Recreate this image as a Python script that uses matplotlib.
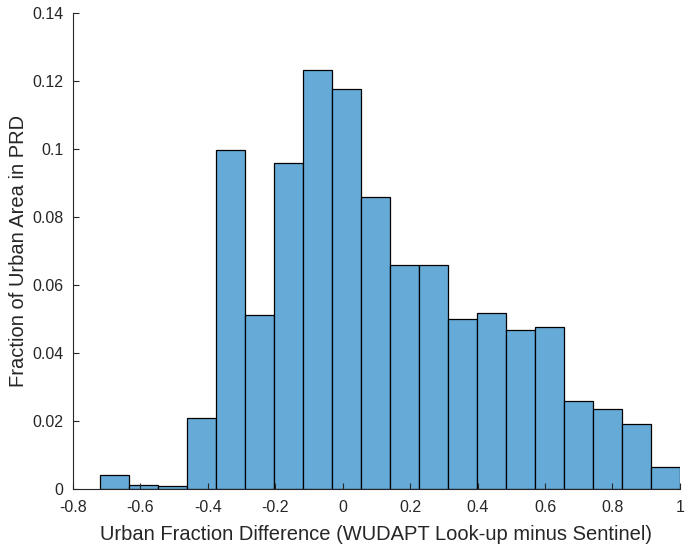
import numpy as np
import matplotlib.pyplot as plt

# bin edges of the histogram (urban fraction difference)
bin_edges = [-0.72, -0.634, -0.548, -0.462, -0.376, -0.29, -0.204, -0.118, -0.032,
             0.054, 0.14, 0.226, 0.312, 0.398, 0.484, 0.57, 0.656, 0.742, 0.828,
             0.914, 1.0]
# fraction of urban area in each bin
fractions = [0.0041, 0.0012, 0.0008, 0.0210, 0.0996, 0.0513, 0.0958, 0.1232,
             0.1177, 0.0859, 0.0658, 0.0658, 0.0501, 0.0518, 0.0469, 0.0475,
             0.0259, 0.0236, 0.0192, 0.0064]

x_ticks = [-0.8, -0.6, -0.4, -0.2, 0, 0.2, 0.4, 0.6, 0.8, 1]
y_ticks = [0, 0.02, 0.04, 0.06, 0.08, 0.1, 0.12, 0.14]

plt.rcParams['font.family'] = ['Liberation Sans', 'DejaVu Sans']
txt = '#262626'

fig = plt.figure(figsize=(6.85, 5.53), dpi=100)
ax = fig.add_axes([0.1066, 0.1157, 0.886, 0.861])

centers = [(a + b) / 2 for a, b in zip(bin_edges[:-1], bin_edges[1:])]
ax.hist(centers, bins=bin_edges, weights=fractions,
        color=(0.4, 0.668, 0.845), edgecolor='black', linewidth=0.9)

ax.set_xlim(-0.8, 1)
ax.set_ylim(0, 0.14)
ax.set_xticks(x_ticks)
ax.set_xticklabels(['-0.8', '-0.6', '-0.4', '-0.2', '0', '0.2', '0.4', '0.6', '0.8', '1'])
ax.set_yticks(y_ticks)
ax.set_yticklabels(['0', '0.02', '0.04', '0.06', '0.08', '0.1', '0.12', '0.14'])
ax.tick_params(direction='in', length=4, labelsize=11.5, colors=txt, labelcolor=txt)
ax.tick_params(axis='x', pad=8)
ax.tick_params(axis='y', pad=7)
for s in ['top', 'right']:
    ax.spines[s].set_visible(False)
for s in ['left', 'bottom']:
    ax.spines[s].set_color(txt)

ax.set_xlabel('Urban Fraction Difference (WUDAPT Look-up minus Sentinel)', fontsize=14.5, color=txt, labelpad=7)
ax.set_ylabel('Fraction of Urban Area in PRD', fontsize=14.5, color=txt, labelpad=3)

fig.savefig('out.png', dpi=100)
